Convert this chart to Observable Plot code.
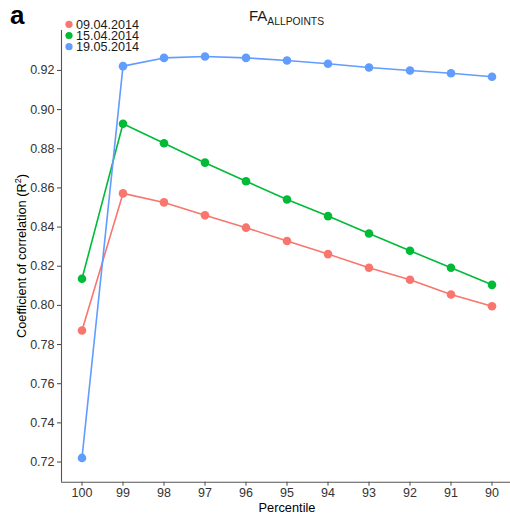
<!DOCTYPE html>
<html><head><meta charset="utf-8">
<script src="https://cdn.jsdelivr.net/npm/d3@7"></script>
<script src="https://cdn.jsdelivr.net/npm/@observablehq/plot@0.6"></script>
<style>body{margin:0;background:#fff;font-family:"Liberation Sans",Arial,sans-serif}</style>
</head><body><div id="chart"></div>
<script>
const percentiles = [100, 99, 98, 97, 96, 95, 94, 93, 92, 91, 90];
const seriesNames = ["09.04.2014", "15.04.2014", "19.05.2014"];
const seriesColors = ["#F8766D", "#00BA38", "#619CFF"];
const values_0904 = [0.7872, 0.8572, 0.8526, 0.8460, 0.8397, 0.8329, 0.8262, 0.8192, 0.8131, 0.8056, 0.7996];
const values_1504 = [0.8136, 0.8928, 0.8828, 0.8729, 0.8634, 0.8541, 0.8456, 0.8367, 0.8279, 0.8192, 0.8105];
const values_1905 = [0.7221, 0.9222, 0.9264, 0.9271, 0.9264, 0.9251, 0.9234, 0.9215, 0.9200, 0.9186, 0.9168];
const yTicks = [0.72, 0.74, 0.76, 0.78, 0.80, 0.82, 0.84, 0.86, 0.88, 0.90, 0.92];
const yDomain = [0.7097, 0.9404];
const xDomain = [100.5, 89.5];

const allValues = [values_0904, values_1504, values_1905];
const data = [];
seriesNames.forEach((s, i) => percentiles.forEach((p, j) => data.push({series: s, percentile: p, value: allValues[i][j]})));

const W = 510, H = 519;
const chart = Plot.plot({
  width: W, height: H,
  marginTop: 30, marginBottom: 37.3, marginLeft: 61, marginRight: 0,
  style: {fontFamily: '"Liberation Sans", Arial, sans-serif', background: "#fff"},
  x: {type: "linear", domain: xDomain, range: [61, 512], axis: null},
  y: {domain: yDomain, axis: null},
  color: {domain: seriesNames, range: seriesColors},
  marks: [
    Plot.axisY({ticks: yTicks, tickFormat: d3.format(".2f"), tickSize: 4, tickPadding: 3, fontSize: 12.5, color: "#333", stroke: "#444", label: null}),
    Plot.axisX({ticks: percentiles, tickFormat: d3.format("d"), tickSize: 4, tickPadding: 2, fontSize: 12.5, color: "#333", stroke: "#444", label: null}),
    Plot.ruleX([xDomain[0]], {stroke: "#555", strokeWidth: 1.1}),
    Plot.ruleY([yDomain[0]], {stroke: "#555", strokeWidth: 1.1}),
    Plot.line(data, {x: "percentile", y: "value", stroke: "series", strokeWidth: 1.6}),
    Plot.dot(data, {x: "percentile", y: "value", fill: "series", r: 4.3})
  ]
});
document.getElementById("chart").appendChild(chart);

const svg = d3.select(chart);
const ff = '"Liberation Sans", Arial, sans-serif';
// panel label
svg.append("text").attr("x", 10).attr("y", 24).attr("text-anchor", "start").attr("font-family", ff).attr("font-weight", "bold").attr("font-size", 26).attr("fill", "#000").text("a");
// title
const t = svg.append("text").attr("x", 249).attr("y", 21).attr("text-anchor", "start").attr("font-family", ff).attr("fill", "#1a1a1a");
t.append("tspan").attr("font-size", 15).text("FA");
t.append("tspan").attr("font-size", 10.3).attr("dy", 4).text("ALLPOINTS");
// y label
const yl = svg.append("text").attr("transform", "translate(25.5,256) rotate(-90)").attr("text-anchor", "middle").attr("font-family", ff).attr("font-size", 12.8).attr("fill", "#000");
yl.append("tspan").text("Coefficient of correlation (R");
yl.append("tspan").attr("font-size", 9).attr("dy", -5).text("2");
yl.append("tspan").attr("dy", 5).text(")");
// x label
svg.append("text").attr("x", 287).attr("y", 512).attr("text-anchor", "middle").attr("font-family", ff).attr("font-size", 12.8).attr("fill", "#000").text("Percentile");
// legend
seriesNames.forEach((s, i) => {
  const y = 24.3 + i * 11.2;
  svg.append("circle").attr("cx", 69).attr("cy", y).attr("r", 3.6).attr("fill", seriesColors[i]);
  svg.append("text").attr("x", 76).attr("y", y + 4.5).attr("text-anchor", "start").attr("font-family", ff).attr("font-size", 12.6).attr("fill", "#1a1a1a").text(s);
});
</script></body></html>
